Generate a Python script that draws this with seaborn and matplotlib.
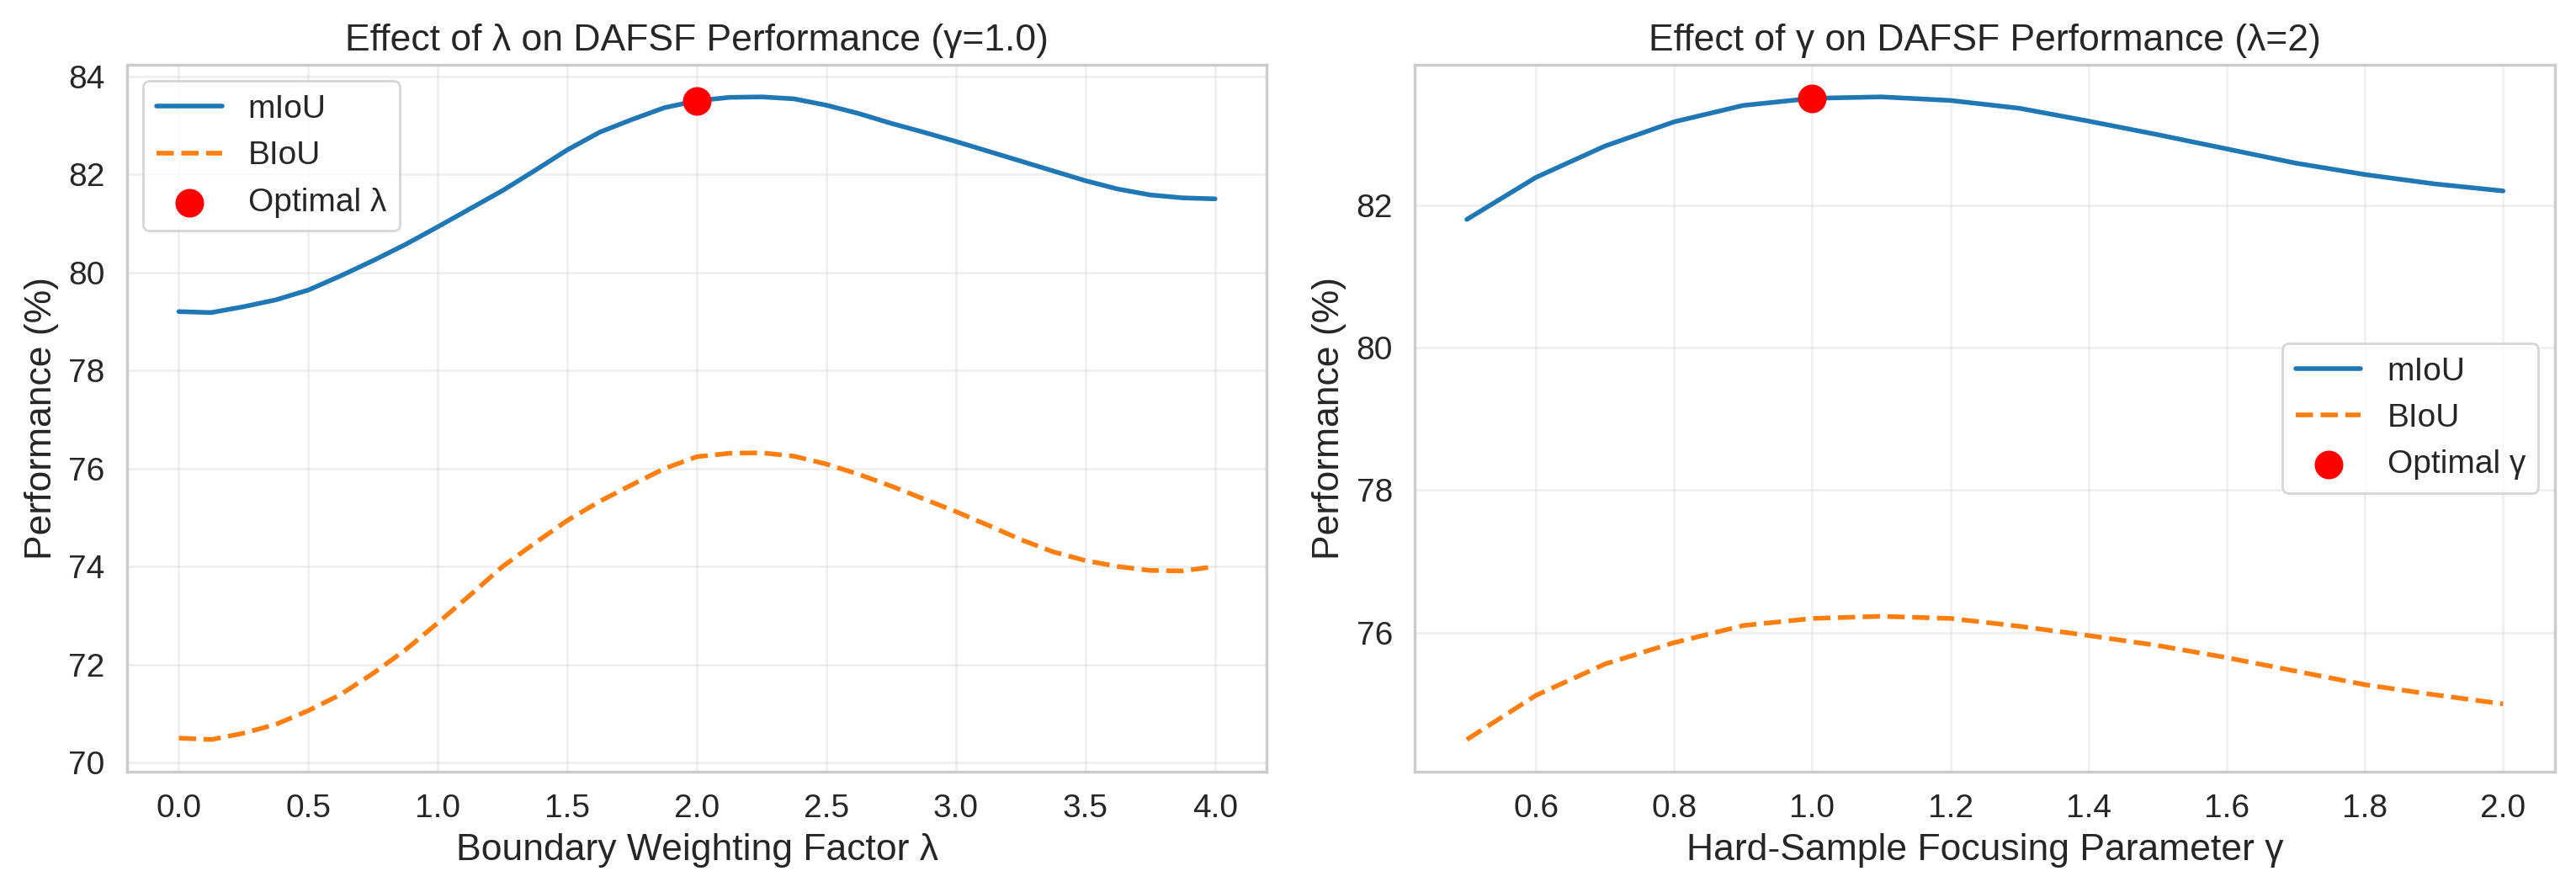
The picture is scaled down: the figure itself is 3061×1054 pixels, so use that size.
import numpy as np
import pandas as pd
import matplotlib
matplotlib.use("Agg")
import matplotlib.pyplot as plt
import seaborn as sns

# ---- data ----
lam = [0.0, 0.125, 0.25, 0.375, 0.5, 0.625, 0.75, 0.875, 1.0, 1.125, 1.25, 1.375, 1.5, 1.625,
       1.75, 1.875, 2.0, 2.125, 2.25, 2.375, 2.5, 2.625, 2.75, 2.875, 3.0, 3.125, 3.25, 3.375,
       3.5, 3.625, 3.75, 3.875, 4.0]
miou_lam = [79.2, 79.18, 79.3, 79.44, 79.64, 79.93, 80.24, 80.57, 80.93, 81.3, 81.67, 82.08, 82.5, 82.86,
            83.12, 83.36, 83.5, 83.57, 83.58, 83.54, 83.41, 83.24, 83.04, 82.86, 82.67, 82.47, 82.27, 82.07,
            81.87, 81.7, 81.58, 81.52, 81.5]
biou_lam = [70.5, 70.47, 70.6, 70.78, 71.06, 71.39, 71.82, 72.3, 72.85, 73.42, 74.0, 74.48, 74.94, 75.33,
            75.67, 76.0, 76.24, 76.31, 76.32, 76.25, 76.09, 75.88, 75.64, 75.38, 75.12, 74.84, 74.55, 74.3,
            74.12, 74.0, 73.92, 73.91, 74.0]

gam = [0.5, 0.6, 0.7, 0.8, 0.9, 1.0, 1.1, 1.2, 1.3, 1.4, 1.5, 1.6, 1.7, 1.8, 1.9, 2.0]
miou_gam = [81.8, 82.39, 82.83, 83.17, 83.4, 83.5, 83.52, 83.47, 83.36, 83.18, 82.99, 82.79, 82.59, 82.43, 82.3, 82.2]
biou_gam = [74.5, 75.12, 75.56, 75.86, 76.1, 76.2, 76.23, 76.2, 76.09, 75.96, 75.82, 75.65, 75.46, 75.27, 75.13, 75.0]

opt_lam_x, opt_lam_y = [2.0], [83.5]
opt_gam_x, opt_gam_y = [1.0], [83.5]

titles = ["Effect of λ on DAFSF Performance (γ=1.0)", "Effect of γ on DAFSF Performance (λ=2)"]
xlabels = ["Boundary Weighting Factor λ", "Hard-Sample Focusing Parameter γ"]
opt_labels = ["Optimal λ", "Optimal γ"]

sns.set_theme(style="whitegrid")
plt.rcParams['font.family'] = ['Liberation Sans', 'DejaVu Sans']

fig, axes = plt.subplots(1, 2, figsize=(15.305, 5.27), dpi=200)
fig.subplots_adjust(left=0.0493, right=0.9918, bottom=0.130, top=0.927, wspace=0.13)

blue = "#1f77b4"
orange = "#ff7f0e"

panels = [
    (lam, miou_lam, biou_lam, opt_lam_x, opt_lam_y, "upper left"),
    (gam, miou_gam, biou_gam, opt_gam_x, opt_gam_y, "center right"),
]

for i, (ax, (x, m, b, ox, oy, loc)) in enumerate(zip(axes, panels)):
    sns.lineplot(x=x, y=m, ax=ax, color=blue, linewidth=2, label="mIoU")
    sns.lineplot(x=x, y=b, ax=ax, color=orange, linewidth=2, linestyle="--", label="BIoU")
    sns.scatterplot(x=ox, y=oy, ax=ax, color="red", s=150, linewidth=0,
                    label=opt_labels[i], zorder=5)
    ax.set_title(titles[i], fontsize=16)
    ax.set_xlabel(xlabels[i], fontsize=16)
    ax.set_ylabel("Performance (%)", fontsize=16)
    ax.tick_params(labelsize=14)
    ax.grid(True, alpha=0.3)
    ax.legend(loc=loc, fontsize=14)

fig.savefig("out.png", dpi=200)
